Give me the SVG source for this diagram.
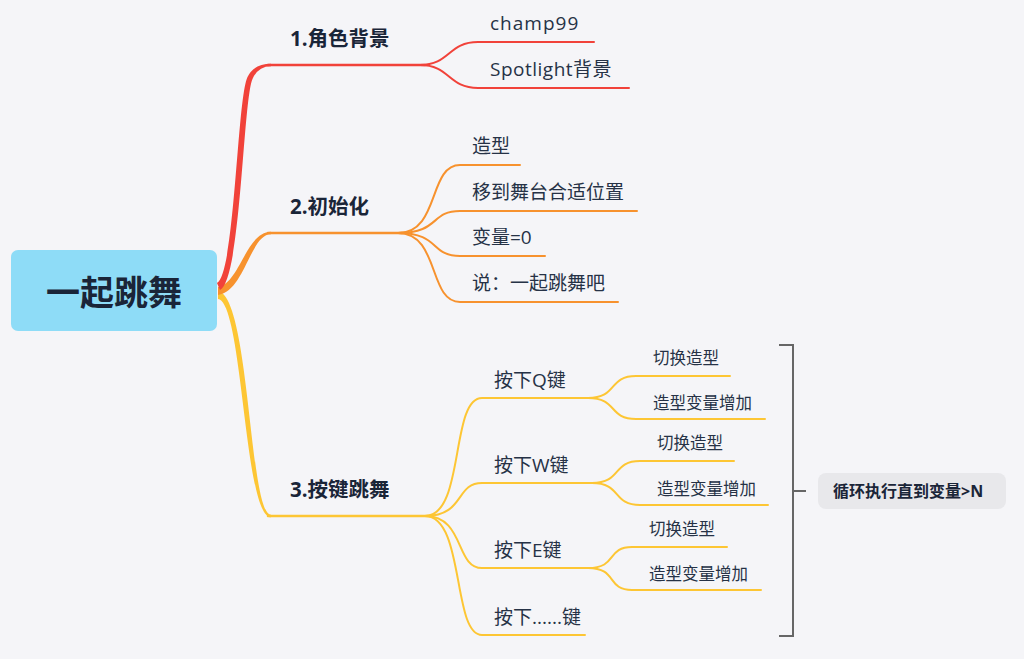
<svg xmlns="http://www.w3.org/2000/svg" width="1024" height="659" viewBox="0 0 1024 659">
<style>
.t{font-family:"Open Sans","Noto Sans CJK SC",sans-serif;fill:#263246}
.b{font-family:"Open Sans","Noto Sans CJK SC",sans-serif;font-weight:bold;fill:#1a2538}
.l1{font-size:19px}
.l2{font-size:16.5px}
.r{fill:none;stroke:#f1423a;stroke-linecap:round}
.o{fill:none;stroke:#f7922e;stroke-linecap:round}
.y{fill:none;stroke:#fdc634;stroke-linecap:round}
.s{stroke-width:2}
</style>
<rect width="1024" height="659" fill="#f5f5f8"/>
<g id="connectors">
<path fill="#fdc634" d="M218,291 C250,296 249,514.7 271,514.7 L271,517.3 C244,517.3 243,302 218,299 Z"/>
<path class="y" stroke-width="2.5" d="M268,516 L430,516"/>
<path fill="#f7922e" d="M218,287 C240,283 246,231.7 271,231.7 L271,234.3 C250,234.3 245,291 218,295 Z"/>
<path class="o" stroke-width="2.5" d="M268,233 L402,233"/>
<path fill="#f1423a" d="M217,283 C235,273 237,99 247.5,77 Q254,63.8 271,63.8 L271,66.2 Q258,66.2 252.5,79 C243,101 241,280 220,290 Z"/>
<path class="r" stroke-width="2.5" d="M268,65 L425,65"/>
<g class="r s">
<path d="M420,65 C450,65 448,42 478,42 L594,42"/>
<path d="M420,65 C450,65 448,88 478,88 L629,88"/>
</g>
<g class="o s">
<path d="M398,233 C440,233 428,165 460,165 L520,165"/>
<path d="M398,233 C440,233 430,211 460,211 L637,211"/>
<path d="M398,233 C440,233 430,256 460,256 L545,256"/>
<path d="M398,233 C440,233 428,302 460,302 L618,302"/>
</g>
<g class="y s">
<path d="M425,516 C465,516 450,398 482,398 L592,398"/>
<path d="M425,516 C465,516 455,483 482,483 L597,483"/>
<path d="M425,516 C465,516 455,568 482,568 L592,568"/>
<path d="M425,516 C465,516 452,635 482,635 L585,635"/>
<path d="M588,398 C618,398 608,376 636,376 L730,376"/>
<path d="M588,398 C618,398 608,419 636,419 L765,419"/>
<path d="M592,483 C622,483 612,461 640,461 L734,461"/>
<path d="M592,483 C622,483 612,505 640,505 L768,505"/>
<path d="M588,568 C618,568 606,547 632,547 L727,547"/>
<path d="M588,568 C618,568 606,590 632,590 L761,590"/>
</g>
<path d="M779,345 L793,345 L793,636 L779,636 M793,491 L806,491" fill="none" stroke="#666" stroke-width="2"/>
</g>
<g id="root">
<rect x="11" y="250" width="206" height="81" rx="7" fill="#8edcf7"/>
<text class="b" x="114" y="305" font-size="34" text-anchor="middle" fill="#111">一起跳舞</text>
</g>
<g id="n1"><text class="b" x="290" y="46" font-size="20.5">1.角色背景</text></g>
<g id="n1a"><text class="t l1" x="490" y="30" letter-spacing="1">champ99</text></g>
<g id="n1b"><text class="t l1" x="490" y="76" letter-spacing="0.5">Spotlight背景</text></g>
<g id="n2"><text class="b" x="290" y="214" font-size="20.5">2.初始化</text></g>
<g id="n2a"><text class="t l1" x="472" y="153">造型</text></g>
<g id="n2b"><text class="t l1" x="472" y="199">移到舞台合适位置</text></g>
<g id="n2c"><text class="t l1" x="472" y="244">变量=0</text></g>
<g id="n2d"><text class="t l1" x="472" y="290">说：一起跳舞吧</text></g>
<g id="n3"><text class="b" x="290" y="497" font-size="20.5">3.按键跳舞</text></g>
<g id="q"><text class="t l1" x="494" y="387">按下Q键</text></g>
<g id="q1"><text class="t l2" x="653" y="364">切换造型</text></g>
<g id="q2"><text class="t l2" x="653" y="409">造型变量增加</text></g>
<g id="w"><text class="t l1" x="494" y="472">按下W键</text></g>
<g id="w1"><text class="t l2" x="657" y="449">切换造型</text></g>
<g id="w2"><text class="t l2" x="657" y="495">造型变量增加</text></g>
<g id="e"><text class="t l1" x="494" y="557">按下E键</text></g>
<g id="e1"><text class="t l2" x="649" y="535">切换造型</text></g>
<g id="e2"><text class="t l2" x="649" y="580">造型变量增加</text></g>
<g id="etc"><text class="t l1" x="494" y="624">按下......键</text></g>
<g id="summary">
<rect x="818" y="473" width="188" height="36" rx="8" fill="#e8e8eb"/>
<text class="b" x="833" y="497" font-size="16">循环执行直到变量&gt;N</text>
</g>
</svg>
